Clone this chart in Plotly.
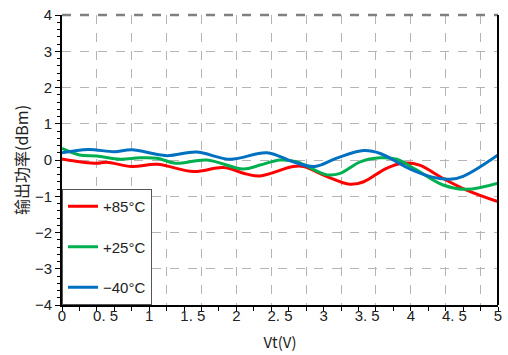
import plotly.graph_objects as go

# ---- data ----
x_85 = [0, 0.24, 0.4, 0.51, 0.8, 1.09, 1.51, 1.85, 2.12, 2.27, 2.65, 2.77, 3.04, 3.3, 3.46, 3.72, 3.91, 4.1, 4.37, 4.64, 5.0]
y_85 = [0.03, -0.06, -0.09, -0.06, -0.18, -0.12, -0.32, -0.21, -0.39, -0.44, -0.18, -0.18, -0.46, -0.67, -0.6, -0.23, -0.09, -0.14, -0.51, -0.83, -1.15]

x_25 = [0, 0.2, 0.4, 0.67, 0.89, 1.09, 1.3, 1.66, 2.08, 2.27, 2.5, 2.69, 3.04, 3.19, 3.42, 3.65, 3.84, 4.07, 4.37, 4.64, 5.0]
y_25 = [0.32, 0.14, 0.11, 0.02, 0.06, 0.05, -0.09, 0.0, -0.25, -0.14, 0.0, -0.05, -0.41, -0.37, -0.05, 0.06, 0.02, -0.28, -0.69, -0.81, -0.64]

x_m40 = [0, 0.3, 0.6, 0.8, 1.2, 1.54, 1.93, 2.35, 2.65, 2.9, 3.15, 3.46, 3.65, 4.0, 4.26, 4.45, 4.6, 5.0]
y_m40 = [0.2, 0.29, 0.23, 0.28, 0.12, 0.22, 0.02, 0.2, -0.05, -0.18, 0.05, 0.26, 0.18, -0.26, -0.48, -0.53, -0.45, 0.14]

series_names = ["+85°C", "+25°C", "\u221240°C"]
series_colors = ["#ff0000", "#00b050", "#0070c0"]

x_tick_vals = [0, 0.5, 1, 1.5, 2, 2.5, 3, 3.5, 4, 4.5, 5]
x_tick_text = ["0", "0. 5", "1", "1. 5", "2", "2. 5", "3", "3. 5", "4", "4. 5", "5"]
y_tick_vals = [-4, -3, -2, -1, 0, 1, 2, 3, 4]

fig = go.Figure()
for i, (xs, ys) in enumerate([(x_85, y_85), (x_25, y_25), (x_m40, y_m40)]):
    fig.add_trace(go.Scatter(
        x=xs, y=ys, mode="lines", name=series_names[i],
        line=dict(color=series_colors[i], width=3, shape="spline", smoothing=1),
        legendgroup=f"g{i}",
    ))
# helper trace for the label axis
fig.add_trace(go.Scatter(x=[None], y=[None], xaxis="x2", showlegend=False, hoverinfo="skip"))

fig.update_layout(
    width=508, height=355,
    margin=dict(l=62, r=10, t=15, b=50, autoexpand=False),
    paper_bgcolor="white", plot_bgcolor="white",
    font=dict(family="Liberation Sans, Arial", size=15, color="#222"),
    xaxis=dict(
        range=[0, 5], tick0=0, dtick=0.4, showticklabels=False, automargin=False,
        showgrid=True, gridcolor="#b4b4b4", griddash="dash", gridwidth=1,
        ticks="outside", ticklen=4, tickcolor="black", tickwidth=1,
        minor=dict(dtick=0.2, tick0=0, ticks="outside", ticklen=4, tickcolor="black", showgrid=False),
        showline=True, linecolor="black", linewidth=2, zeroline=False,
    ),
    xaxis2=dict(
        overlaying="x", anchor="y", side="bottom", range=[0, 5], automargin=False,
        tickmode="array", tickvals=x_tick_vals, ticktext=x_tick_text,
        ticks="", showgrid=False, showline=False, zeroline=False,
        tickfont=dict(size=15, family="Liberation Sans, Arial", color="#222"),
        title=dict(text="Vt(V)", font=dict(family="Noto Sans CJK SC", size=15, color="#222"), standoff=14),
    ),
    yaxis=dict(
        range=[-4, 4], tickmode="array", tickvals=y_tick_vals, automargin=False,
        showgrid=True, gridcolor="#b4b4b4", griddash="dash", gridwidth=1,
        ticks="outside", ticklen=5, tickcolor="black",
        minor=dict(dtick=0.2, tick0=0, ticks="outside", ticklen=3, tickcolor="black", showgrid=False),
        showline=True, linecolor="black", linewidth=2, zeroline=False,
        tickfont=dict(size=15, family="Liberation Sans, Arial", color="#222"),
        title=dict(text="输出功率(dBm)", font=dict(family="Noto Sans CJK SC", size=16, color="#222"), standoff=2),
    ),
    legend=dict(
        x=0, y=0, xanchor="left", yanchor="bottom",
        bgcolor="white", bordercolor="#555", borderwidth=1,
        font=dict(size=15, family="Liberation Sans, Arial", color="#222"),
        tracegroupgap=18, itemwidth=30,
    ),
    shapes=[
        dict(type="line", xref="paper", yref="paper", x0=0, x1=1, y0=1, y1=1,
             line=dict(color="#808080", width=2.5, dash="dash")),
        dict(type="line", xref="paper", yref="paper", x0=1, x1=1, y0=0, y1=1,
             line=dict(color="black", width=2)),
    ],
)

fig.write_html("out.html")
